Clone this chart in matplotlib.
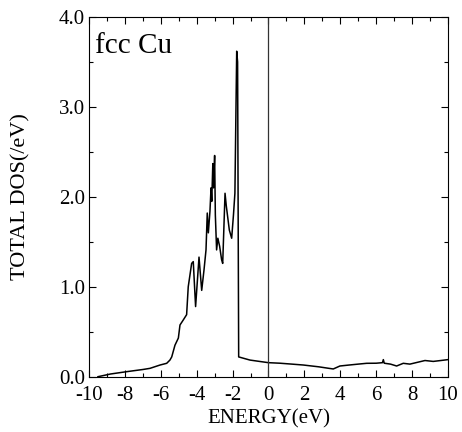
import matplotlib
matplotlib.use("Agg")
import matplotlib.pyplot as plt
from matplotlib.ticker import MultipleLocator, FormatStrFormatter

plt.rcParams['font.family'] = ['Liberation Serif', 'DejaVu Serif']
plt.rcParams['axes.unicode_minus'] = False

# total DOS of fcc Cu
energy = [-9.5, -8.8, -7.9, -7.0, -6.6, -6.04, -5.67, -5.49, -5.39, -5.21,
          -5.02, -4.93, -4.75, -4.56, -4.47, -4.28, -4.19, -4.06, -3.87, -3.72,
          -3.59, -3.48, -3.41, -3.35, -3.26, -3.20, -3.16, -3.10, -3.06, -3.00,
          -2.96, -2.89, -2.82, -2.72, -2.61, -2.55, -2.42, -2.35, -2.18, -2.05,
          -1.95, -1.87, -1.77, -1.72, -1.66, -1.3, -1.03, -0.5, 0.0, 0.64,
          1.3, 1.94, 2.8, 3.3, 3.61, 3.98, 4.5, 5.0, 5.47, 6.0,
          6.35, 6.4, 6.45, 6.8, 7.14, 7.51, 7.88, 8.3, 8.72, 9.18,
          9.6, 10.0]
dos = [0.0, 0.03, 0.056, 0.08, 0.093, 0.13, 0.149, 0.185, 0.22, 0.35,
       0.43, 0.575, 0.63, 0.69, 1.0, 1.26, 1.28, 0.78, 1.33, 0.96,
       1.19, 1.41, 1.82, 1.60, 1.84, 2.10, 1.95, 2.37, 2.10, 2.46,
       1.80, 1.41, 1.54, 1.45, 1.30, 1.26, 2.04, 1.90, 1.63, 1.54,
       1.80, 2.04, 3.62, 3.50, 0.22, 0.20, 0.185, 0.17, 0.156, 0.15,
       0.14, 0.13, 0.11, 0.095, 0.086, 0.119, 0.13, 0.14, 0.149, 0.15,
       0.156, 0.19, 0.15, 0.14, 0.119, 0.149, 0.14, 0.16, 0.18, 0.17,
       0.18, 0.19]

fig = plt.figure(figsize=(4.62, 4.32), dpi=100)
ax = fig.add_axes([0.1926, 0.128, 0.777, 0.8326])

ax.plot(energy, dos, color='black', lw=1.1)
ax.axvline(0, color='#333333', lw=0.9)

ax.set_xlim(-10, 10)
ax.set_ylim(0, 4.0)
ax.xaxis.set_major_locator(MultipleLocator(2))
ax.xaxis.set_minor_locator(MultipleLocator(1))
ax.yaxis.set_major_locator(MultipleLocator(1))
ax.yaxis.set_minor_locator(MultipleLocator(0.5))
ax.yaxis.set_major_formatter(FormatStrFormatter('%.1f'))
ax.tick_params(which='both', direction='in', top=True, right=True,
               labelsize=15, width=0.8)
ax.tick_params(which='major', length=5)
ax.tick_params(axis='x', which='major', pad=7)
ax.tick_params(axis='y', which='major', pad=3)
ax.tick_params(which='minor', length=3)
for s in ax.spines.values():
    s.set_linewidth(0.8)

ax.set_xlabel('ENERGY(eV)', fontsize=15, labelpad=3)
ax.set_ylabel('TOTAL DOS(/eV)', fontsize=16, labelpad=20)
ax.text(0.017, 0.9, 'fcc Cu', transform=ax.transAxes, fontsize=21,
        va='baseline', ha='left')

fig.savefig('out.png', dpi=100)
